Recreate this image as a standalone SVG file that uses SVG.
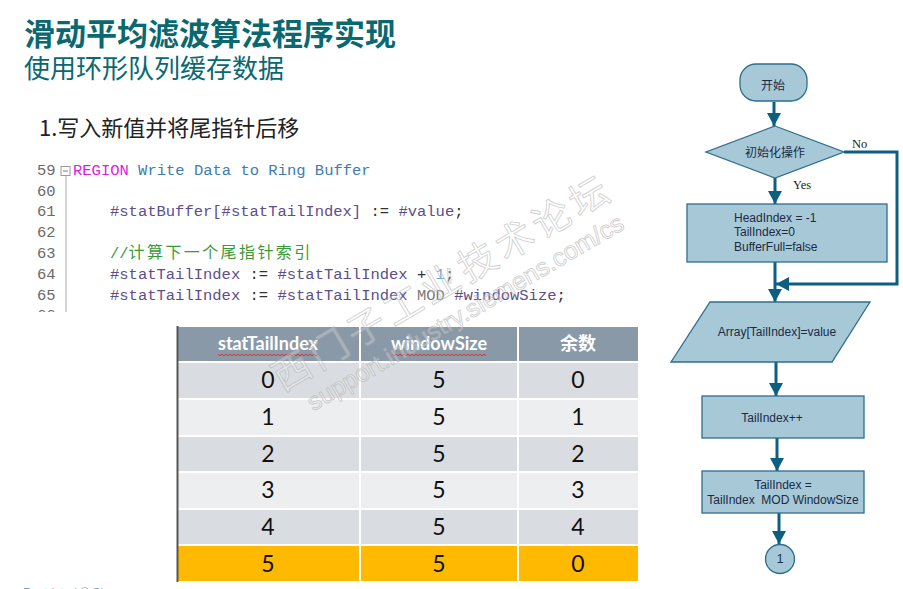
<svg xmlns="http://www.w3.org/2000/svg" width="903" height="589" viewBox="0 0 903 589">
<defs>
<style>
.ttl{font-family:"Noto Sans CJK SC","Noto Sans",sans-serif;fill:#0a6870}
.cn{font-family:"Noto Sans CJK SC","Noto Sans",sans-serif}
.mono{font-family:"Liberation Mono","DejaVu Sans Mono",monospace;font-size:15.5px}
.ln{fill:#6a6a6a}
.kw{fill:#dd22dd}
.bl{fill:#3f7cb3}
.pv{fill:#5c4e8c}
.op{fill:#333}
.cm{fill:#3a9a3a}
.num{fill:#5aa2d6}
.md{fill:#777}
.th{font-family:"Lato","Noto Sans CJK SC",sans-serif;font-size:18px;font-weight:bold;fill:#fff;text-anchor:middle}
.td{font-family:"Lato","Noto Sans CJK SC",sans-serif;font-size:23px;fill:#111;text-anchor:middle}
.shape{fill:#a7c8d7;stroke:#2d6e8e;stroke-width:1.3}
.ft{font-family:"Liberation Sans","Noto Sans CJK SC",sans-serif;font-size:12px;fill:#1b2b45}
.fc{font-family:"Noto Sans CJK SC",sans-serif;font-size:12px;fill:#1b2b45;text-anchor:middle}
.lbl{font-family:"Liberation Serif",serif;font-size:12.5px;fill:#222}
.con{fill:none;stroke:#0d5f82;stroke-width:3}
.wv{fill:none;stroke:#e03030;stroke-width:1}
.wm{fill:#ffffff;fill-opacity:0.25;stroke:#b0b0b0;stroke-opacity:0.6;stroke-width:0.9}
</style>
<marker id="ah" markerUnits="userSpaceOnUse" markerWidth="14" markerHeight="14" refX="13" refY="7" orient="auto">
<path d="M0,0 L13,7 L0,14 z" fill="#0d5f82"/>
</marker>
<clipPath id="codeClip"><rect x="0" y="150" width="660" height="162"/></clipPath>
</defs>
<rect width="903" height="589" fill="#ffffff"/>

<g id="title">
<text class="ttl" x="24" y="45" font-size="31" font-weight="bold">滑动平均滤波算法程序实现</text>
<text class="ttl" x="24" y="78" font-size="26">使用环形队列缓存数据</text>
<text class="cn" x="39" y="136" font-size="22" fill="#222">1.写入新值并将尾指针后移</text>
</g>

<g id="code" clip-path="url(#codeClip)">
<line x1="66" y1="172" x2="66" y2="320" stroke="#aaa" stroke-width="1"/>
<rect x="61" y="166.5" width="9" height="9" fill="#fff" stroke="#999" stroke-width="1"/>
<line x1="63" y1="171" x2="68" y2="171" stroke="#777" stroke-width="1"/>
<g class="mono ln">
<text x="37" y="175">59</text>
<text x="37" y="195.5">60</text>
<text x="37" y="216">61</text>
<text x="37" y="237">62</text>
<text x="37" y="258">63</text>
<text x="37" y="279">64</text>
<text x="37" y="299.5">65</text>
<text x="37" y="320">66</text>
</g>
<text class="mono" x="73" y="175" xml:space="preserve"><tspan class="kw">REGION</tspan><tspan class="bl"> Write Data to Ring Buffer</tspan></text>
<text class="mono" x="110" y="216" xml:space="preserve"><tspan class="pv">#statBuffer[#statTailIndex]</tspan><tspan class="op"> := </tspan><tspan class="pv">#value</tspan><tspan class="op">;</tspan></text>
<text class="mono cm" x="110" y="258" xml:space="preserve">//<tspan font-family="Noto Sans CJK SC,sans-serif" font-size="16" letter-spacing="2.4">计算下一个尾指针索引</tspan></text>
<text class="mono" x="110" y="279" xml:space="preserve"><tspan class="pv">#statTailIndex</tspan><tspan class="op"> := </tspan><tspan class="pv">#statTailIndex</tspan><tspan class="op"> + </tspan><tspan class="num">1</tspan><tspan class="op">;</tspan></text>
<text class="mono" x="110" y="299.5" xml:space="preserve"><tspan class="pv">#statTailIndex</tspan><tspan class="op"> := </tspan><tspan class="pv">#statTailIndex</tspan><tspan class="md"> MOD </tspan><tspan class="pv">#windowSize</tspan><tspan class="op">;</tspan></text>
</g>

<g id="table">
<rect x="177" y="327" width="461" height="34" fill="#8999a8"/>
<rect x="177" y="363" width="461" height="35" fill="#d9dde1"/>
<rect x="177" y="400" width="461" height="35" fill="#eceef0"/>
<rect x="177" y="437" width="461" height="34" fill="#d9dde1"/>
<rect x="177" y="473" width="461" height="35" fill="#eceef0"/>
<rect x="177" y="510" width="461" height="34" fill="#d9dde1"/>
<rect x="177" y="546" width="461" height="35" fill="#ffb900"/>
<line x1="360" y1="327" x2="360" y2="581" stroke="#fff" stroke-width="2"/>
<line x1="518" y1="327" x2="518" y2="581" stroke="#fff" stroke-width="2"/>
<line x1="177.5" y1="326" x2="177.5" y2="582" stroke="#555" stroke-width="2"/>
<text class="th" x="268" y="350">statTailIndex</text>
<text class="th" x="439" y="350">windowSize</text>
<text class="th" x="578" y="350">余数</text>
<path class="wv" d="M218,354 l2,2 l2,-2 l2,2 l2,-2 l2,2 l2,-2 l2,2 l2,-2 l2,2 l2,-2 l2,2 l2,-2 l2,2 l2,-2 l2,2 l2,-2 l2,2 l2,-2 l2,2 l2,-2 l2,2 l2,-2 l2,2 l2,-2 l2,2 l2,-2 l2,2 l2,-2 l2,2 l2,-2 l2,2 l2,-2 l2,2 l2,-2 l2,2 l2,-2 l2,2 l2,-2 l2,2 l2,-2 l2,2 l2,-2 l2,2 l2,-2 l2,2 l2,-2 l2,2 l2,-2 l2,2 l2,-2"/>
<path class="wv" d="M392,354 l2,2 l2,-2 l2,2 l2,-2 l2,2 l2,-2 l2,2 l2,-2 l2,2 l2,-2 l2,2 l2,-2 l2,2 l2,-2 l2,2 l2,-2 l2,2 l2,-2 l2,2 l2,-2 l2,2 l2,-2 l2,2 l2,-2 l2,2 l2,-2 l2,2 l2,-2 l2,2 l2,-2 l2,2 l2,-2 l2,2 l2,-2 l2,2 l2,-2 l2,2 l2,-2 l2,2 l2,-2 l2,2 l2,-2 l2,2 l2,-2 l2,2 l2,-2 l2,2"/>
<text class="td" x="268" y="388">0</text><text class="td" x="439" y="388">5</text><text class="td" x="578" y="388">0</text>
<text class="td" x="268" y="425">1</text><text class="td" x="439" y="425">5</text><text class="td" x="578" y="425">1</text>
<text class="td" x="268" y="462">2</text><text class="td" x="439" y="462">5</text><text class="td" x="578" y="462">2</text>
<text class="td" x="268" y="498">3</text><text class="td" x="439" y="498">5</text><text class="td" x="578" y="498">3</text>
<text class="td" x="268" y="535">4</text><text class="td" x="439" y="535">5</text><text class="td" x="578" y="535">4</text>
<text class="td" x="268" y="572">5</text><text class="td" x="439" y="572">5</text><text class="td" x="578" y="572">0</text>
</g>

<g id="connectors">
<path class="con" d="M774,102 V126" marker-end="url(#ah)"/>
<path class="con" d="M775,178 V204" marker-end="url(#ah)"/>
<path class="con" d="M775,262 V302" marker-end="url(#ah)"/>
<path class="con" d="M844,152 H897 V284 H776" marker-end="url(#ah)"/>
<path class="con" d="M776,362 V396" marker-end="url(#ah)"/>
<path class="con" d="M777,438 V471" marker-end="url(#ah)"/>
<path class="con" d="M779,513 V544" marker-end="url(#ah)"/>
<text class="lbl" x="852" y="148">No</text>
<text class="lbl" x="793" y="189">Yes</text>
</g>

<g id="n_start">
<rect class="shape" x="740" y="64" width="67" height="37" rx="16" ry="16"/>
<text class="fc" x="773" y="90">开始</text>
</g>
<g id="n_init">
<polygon class="shape" points="775,126 844,152 775,178 706,152"/>
<text class="fc" x="775" y="157">初始化操作</text>
</g>
<g id="n_setup">
<rect class="shape" x="687" y="204" width="200" height="58"/>
<text class="ft" x="734" y="222">HeadIndex  = -1</text>
<text class="ft" x="734" y="236">TailIndex=0</text>
<text class="ft" x="734" y="251">BufferFull=false</text>
</g>
<g id="n_write">
<polygon class="shape" points="710,302 870,302 832,362 671,362"/>
<text class="ft" x="777" y="336" text-anchor="middle">Array[TailIndex]=value</text>
</g>
<g id="n_inc">
<rect class="shape" x="702" y="396" width="162" height="42"/>
<text class="ft" x="772" y="422" text-anchor="middle">TailIndex++</text>
</g>
<g id="n_mod">
<rect class="shape" x="702" y="471" width="162" height="42"/>
<text class="ft" x="783" y="489" text-anchor="middle">TailIndex =</text>
<text class="ft" x="783" y="504" text-anchor="middle" xml:space="preserve">TailIndex  MOD WindowSize</text>
</g>
<g id="n_conn">
<circle class="shape" cx="780" cy="559" r="14.5"/>
<text class="ft" x="780" y="563" font-size="10" text-anchor="middle">1</text>
</g>

<g id="watermark">
<text class="wm" x="441" y="280" font-family="Noto Sans CJK SC,sans-serif" font-size="38" letter-spacing="5" text-anchor="middle" dominant-baseline="central" transform="rotate(-30.4 441 280)">西门子工业技术论坛</text>
<text class="wm" x="465" y="312" font-family="Liberation Sans,sans-serif" font-size="25" text-anchor="middle" dominant-baseline="central" transform="rotate(-30.4 465 312)">support.industry.siemens.com/cs</text>
</g>

<text x="23" y="597" font-family="Liberation Sans,sans-serif" font-size="12" fill="#8aa0b0">Restricted © Siemens</text>
</svg>
